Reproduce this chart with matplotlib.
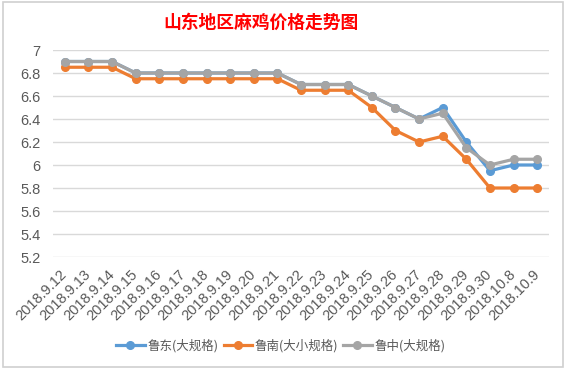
import matplotlib
matplotlib.use("Agg")
import matplotlib.pyplot as plt
import matplotlib.transforms as mtransforms
from matplotlib.lines import Line2D
from matplotlib.patches import Rectangle

plt.rcParams['font.family'] = ['Noto Sans CJK SC', 'DejaVu Sans']

# ============================================================
# Data
# ============================================================
dates = ["2018.9.12", "2018.9.13", "2018.9.14", "2018.9.15", "2018.9.16",
         "2018.9.17", "2018.9.18", "2018.9.19", "2018.9.20", "2018.9.21",
         "2018.9.22", "2018.9.23", "2018.9.24", "2018.9.25", "2018.9.26",
         "2018.9.27", "2018.9.28", "2018.9.29", "2018.9.30", "2018.10.8",
         "2018.10.9"]
ludong = [6.9, 6.9, 6.9, 6.8, 6.8, 6.8, 6.8, 6.8, 6.8, 6.8,
          6.7, 6.7, 6.7, 6.6, 6.5, 6.4, 6.5, 6.2, 5.95, 6.0, 6.0]
lunan = [6.85, 6.85, 6.85, 6.75, 6.75, 6.75, 6.75, 6.75, 6.75, 6.75,
         6.65, 6.65, 6.65, 6.5, 6.3, 6.2, 6.25, 6.05, 5.8, 5.8, 5.8]
luzhong = [6.9, 6.9, 6.9, 6.8, 6.8, 6.8, 6.8, 6.8, 6.8, 6.8,
           6.7, 6.7, 6.7, 6.6, 6.5, 6.4, 6.45, 6.15, 6.0, 6.05, 6.05]
series_names = ["鲁东(大规格)", "鲁南(大小规格)", "鲁中(大规格)"]
yticks = [5.2, 5.4, 5.6, 5.8, 6.0, 6.2, 6.4, 6.6, 6.8, 7.0]
ytick_labels = ["5.2", "5.4", "5.6", "5.8", "6", "6.2", "6.4", "6.6", "6.8", "7"]

colors = ["#5B9BD5", "#ED7D31", "#A5A5A5"]
text_color = "#595959"
grid_color = "#D9D9D9"
latin = ["Liberation Sans", "DejaVu Sans"]

# ============================================================
# Figure
# ============================================================
W, H = 566, 370
fig = plt.figure(figsize=(W / 100, H / 100), dpi=100)

# chart frame (spreadsheet style)
fig.patches.append(Rectangle((2.5 / W, 1 - 367 / H), 560 / W, 365 / H,
                             transform=fig.transFigure, fill=False,
                             edgecolor="#D0D0D0", linewidth=1.2))

ax = fig.add_axes([53 / W, 1 - 257 / H, (549 - 53) / W, (257 - 50) / H])
x = list(range(len(dates)))
for vals, c in zip([ludong, lunan, luzhong], colors):
    ax.plot(x, vals, color=c, linewidth=2.3, marker="o", markersize=5.5,
            solid_capstyle="round")

ax.set_xlim(-0.5, len(dates) - 0.5)
ax.set_ylim(5.2, 7.0)
ax.set_yticks(yticks)
ax.set_yticklabels(ytick_labels, fontsize=10.5, color=text_color, family=latin)
ax.set_xticks(x)
ax.set_xticklabels(dates, rotation=45, ha="right", va="center",
                   rotation_mode="anchor", fontsize=10.5, color=text_color,
                   family=latin)
shift = mtransforms.ScaledTranslation(6 / 100, 0, fig.dpi_scale_trans)
for lbl in ax.get_xticklabels():
    lbl.set_transform(lbl.get_transform() + shift)
ax.tick_params(axis="both", length=0)
ax.tick_params(axis="y", pad=9)
ax.tick_params(axis="x", pad=11)
ax.grid(axis="y", color=grid_color, linewidth=1)
ax.set_axisbelow(True)
for s in ax.spines.values():
    s.set_visible(False)

fig.text(261 / W, 1 - 23 / H, "山东地区麻鸡价格走势图", color="#FF0000",
         fontsize=12.8, fontweight="bold", ha="center", va="center")

handles = [Line2D([], [], color=c, linewidth=2.3, marker="o", markersize=5.5)
           for c in colors]
fig.legend(handles, series_names, loc="center", bbox_to_anchor=(281 / W, 1 - 346 / H),
           ncol=3, frameon=False, fontsize=9, handlelength=2.25,
           columnspacing=0.4, handletextpad=0.25, labelcolor=text_color)

fig.savefig("out.png", dpi=100)
